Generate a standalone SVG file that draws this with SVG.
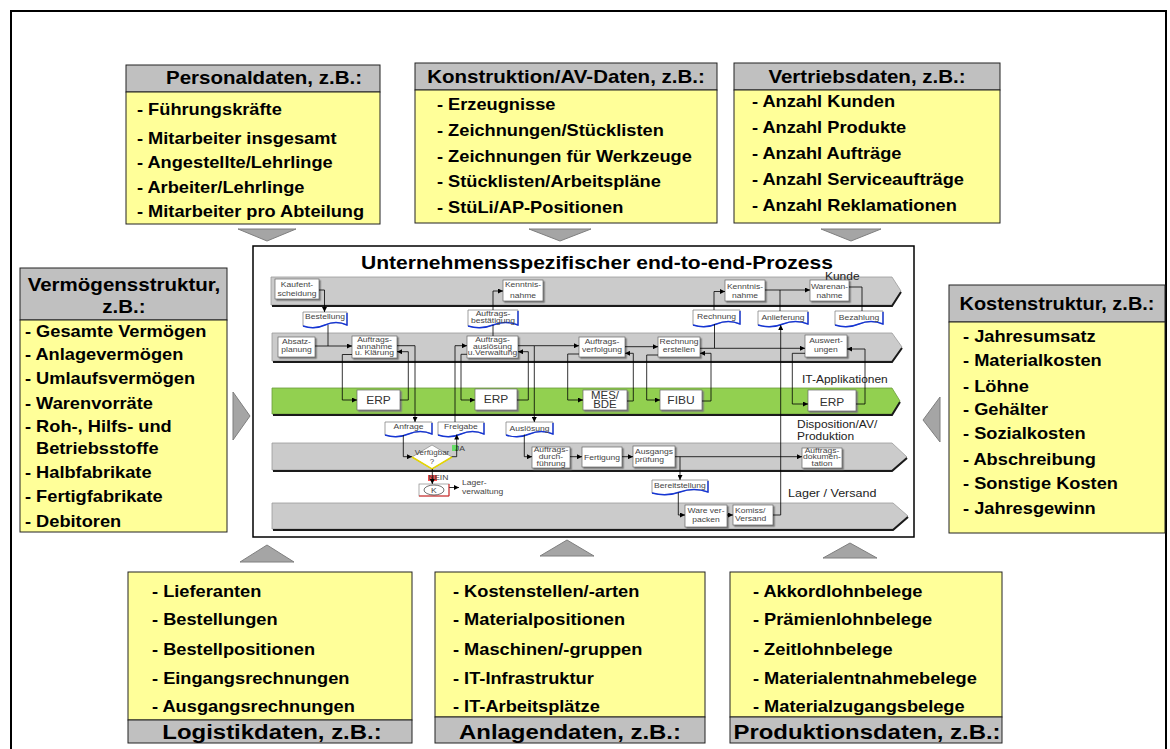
<svg xmlns="http://www.w3.org/2000/svg" width="1170" height="749" viewBox="0 0 1170 749">
<defs>
<marker id="ar" markerWidth="5" markerHeight="5" refX="5" refY="2.5" orient="auto" markerUnits="userSpaceOnUse"><path d="M0,0 L5,2.5 L0,5 Z" fill="#000"/></marker>
<filter id="ds" x="-10%" y="-10%" width="130%" height="140%"><feDropShadow dx="1.5" dy="1.5" stdDeviation="0.3" flood-color="#7a7a7a"/></filter>
<style>
text{font-family:"Liberation Sans",Arial,sans-serif;transform-box:fill-box;transform-origin:50% 50%;transform:scaleX(1.14)}
.l{transform-origin:0% 50%}
.hd{fill:#C0C0C0;stroke:#222;stroke-width:1}
.bd{fill:#FFFF99;stroke:#222;stroke-width:1}
.ht{font-size:18px;font-weight:bold;text-anchor:middle;fill:#000}
.hb{font-size:21px;font-weight:bold;text-anchor:middle;fill:#000}
.it{font-size:16px;font-weight:bold;fill:#000;transform-origin:0% 50%}
.tr{fill:#A5A5A5;stroke:#7f7f7f;stroke-width:1}
.lane{fill:#CBCBCB;stroke:#9a9a9a;stroke-width:0.8}
.gl{fill:#92D050;stroke:#6a9a3a;stroke-width:0.8}
.sh{fill:none;stroke:#1a1a1a;stroke-width:2}
.bx{fill:#fff;stroke:#666;stroke-width:0.7;filter:url(#ds)}
.s{font-size:7.5px;fill:#444;text-anchor:middle}
.e{font-size:10.5px;fill:#333;text-anchor:middle}
.lb{font-size:10.5px;fill:#222;transform-origin:0% 50%}
.c{fill:none;stroke:#000;stroke-width:0.8}
.ca{marker-end:url(#ar)}
.doc{fill:#fff;stroke:#777;stroke-width:0.7}
.blu{fill:none;stroke:#1535d5;stroke-width:1.4}
</style>
</defs>
<rect x="11" y="11" width="1155" height="760" fill="#fff" stroke="#000" stroke-width="2"/>

<!-- top boxes -->
<g id="personaldaten">
<rect class="hd" x="126" y="65" width="254" height="27"/>
<rect class="bd" x="126" y="92" width="254" height="132"/>
<text class="ht" x="264" y="84.5">Personaldaten, z.B.:</text>
<text class="it" x="137" y="115.5">- Führungskräfte</text>
<text class="it" x="137" y="144">- Mitarbeiter insgesamt</text>
<text class="it" x="137" y="168">- Angestellte/Lehrlinge</text>
<text class="it" x="137" y="193">- Arbeiter/Lehrlinge</text>
<text class="it" x="137" y="217">- Mitarbeiter pro Abteilung</text>
<polygon class="tr" points="238,229 296,229 267,241"/>
</g>
<g id="konstruktion">
<rect class="hd" x="415" y="63" width="302" height="27"/>
<rect class="bd" x="415" y="90" width="302" height="133"/>
<text class="ht" x="566" y="83">Konstruktion/AV-Daten, z.B.:</text>
<text class="it" x="437" y="110">- Erzeugnisse</text>
<text class="it" x="437" y="136">- Zeichnungen/Stücklisten</text>
<text class="it" x="437" y="162">- Zeichnungen für Werkzeuge</text>
<text class="it" x="437" y="187">- Stücklisten/Arbeitspläne</text>
<text class="it" x="437" y="213">- StüLi/AP-Positionen</text>
<polygon class="tr" points="529,229 591,229 560,241"/>
</g>
<g id="vertrieb">
<rect class="hd" x="734" y="63" width="266" height="27"/>
<rect class="bd" x="734" y="90" width="266" height="133"/>
<text class="ht" x="867" y="83">Vertriebsdaten, z.B.:</text>
<text class="it" x="752" y="107">- Anzahl Kunden</text>
<text class="it" x="752" y="133">- Anzahl Produkte</text>
<text class="it" x="752" y="159">- Anzahl Aufträge</text>
<text class="it" x="752" y="185">- Anzahl Serviceaufträge</text>
<text class="it" x="752" y="211">- Anzahl Reklamationen</text>
<polygon class="tr" points="821,229 881,229 851,241"/>
</g>

<!-- side boxes -->
<g id="vermoegen">
<rect class="hd" x="20" y="268" width="207" height="52"/>
<rect class="bd" x="20" y="320" width="207" height="212"/>
<text class="ht" x="124" y="291.5">Vermögensstruktur,</text>
<text class="ht" x="124" y="313">z.B.:</text>
<text class="it" x="25" y="337">- Gesamte Vermögen</text>
<text class="it" x="25" y="360.5">- Anlagevermögen</text>
<text class="it" x="25" y="384">- Umlaufsvermögen</text>
<text class="it" x="25" y="409">- Warenvorräte</text>
<text class="it" x="25" y="432">- Roh-, Hilfs- und</text>
<text class="it" x="36" y="454.5">Betriebsstoffe</text>
<text class="it" x="25" y="478">- Halbfabrikate</text>
<text class="it" x="25" y="502">- Fertigfabrikate</text>
<text class="it" x="25" y="527">- Debitoren</text>
<polygon class="tr" points="233,392 250,416 233,440"/>
</g>
<g id="kosten">
<rect class="hd" x="949" y="285" width="216" height="37"/>
<rect class="bd" x="949" y="322" width="216" height="211"/>
<text class="ht" x="1057" y="310" style="font-size:17.5px">Kostenstruktur, z.B.:</text>
<text class="it" x="963" y="342">- Jahresumsatz</text>
<text class="it" x="963" y="366">- Materialkosten</text>
<text class="it" x="963" y="392">- Löhne</text>
<text class="it" x="963" y="415.5">- Gehälter</text>
<text class="it" x="963" y="439.5">- Sozialkosten</text>
<text class="it" x="963" y="465">- Abschreibung</text>
<text class="it" x="963" y="489">- Sonstige Kosten</text>
<text class="it" x="963" y="514">- Jahresgewinn</text>
<polygon class="tr" points="940,397 923,420 940,442"/>
</g>

<!-- bottom boxes -->
<g id="logistik">
<rect class="bd" x="128" y="572" width="284" height="148"/>
<rect class="hd" x="128" y="720" width="284" height="23"/>
<text class="hb" x="272" y="739">Logistikdaten, z.B.:</text>
<text class="it" x="152" y="597">- Lieferanten</text>
<text class="it" x="152" y="625.5">- Bestellungen</text>
<text class="it" x="152" y="655">- Bestellpositionen</text>
<text class="it" x="152" y="684">- Eingangsrechnungen</text>
<text class="it" x="152" y="712">- Ausgangsrechnungen</text>
<polygon class="tr" points="240,562 267,545 294,562"/>
</g>
<g id="anlagen">
<rect class="bd" x="435" y="572" width="270" height="145"/>
<rect class="hd" x="435" y="717" width="270" height="26"/>
<text class="hb" x="570" y="739">Anlagendaten, z.B.:</text>
<text class="it" x="453" y="597">- Kostenstellen/-arten</text>
<text class="it" x="453" y="625.5">- Materialpositionen</text>
<text class="it" x="453" y="655">- Maschinen/-gruppen</text>
<text class="it" x="453" y="684">- IT-Infrastruktur</text>
<text class="it" x="453" y="712">- IT-Arbeitsplätze</text>
<polygon class="tr" points="540,556 567,540 594,556"/>
</g>
<g id="produktion">
<rect class="bd" x="730" y="572" width="272" height="145"/>
<rect class="hd" x="730" y="717" width="272" height="26"/>
<text class="hb" x="867" y="739">Produktionsdaten, z.B.:</text>
<text class="it" x="753" y="597">- Akkordlohnbelege</text>
<text class="it" x="753" y="625.5">- Prämienlohnbelege</text>
<text class="it" x="753" y="655">- Zeitlohnbelege</text>
<text class="it" x="753" y="684">- Materialentnahmebelege</text>
<text class="it" x="753" y="712">- Materialzugangsbelege</text>
<polygon class="tr" points="823,558 850,543 877,558"/>
</g>

<!-- central process -->
<g id="prozess">
<rect x="253" y="246" width="661" height="291" fill="#fff" stroke="#000" stroke-width="1.5"/>
<text x="597" y="269" style="font-size:18.5px;font-weight:bold;text-anchor:middle;fill:#000">Unternehmensspezifischer end-to-end-Prozess</text>
<polygon class="lane" points="271,277 892,277 901,291 892,305 271,305"/>
<polyline class="sh" points="272,306 892,306 901,292"/>
<polygon class="lane" points="272,333 892,333 902,347 892,361 272,361"/>
<polyline class="sh" points="273,362 892,362 902,348"/>
<polygon class="gl" points="272,388 892,388 900,401 892,414 272,414"/>
<polyline class="sh" points="273,415 892,415 900,402"/>
<polygon class="lane" points="272,443 892,443 907,457 892,470 272,470"/>
<polyline class="sh" points="273,471 892,471 907,458"/>
<polygon class="lane" points="272,503 893,503 908,516 893,529 272,529"/>
<polyline class="sh" points="273,530 893,530 908,517"/>
<text class="lb l" x="825" y="280">Kunde</text>
<text class="lb l" x="802" y="383.5">IT-Applikationen</text>
<text class="lb l" x="797" y="428.5">Disposition/AV/</text>
<text class="lb l" x="797" y="440.5">Produktion</text>
<text class="lb l" x="788" y="497" style="font-size:11px">Lager / Versand</text>
</g>

<g id="kaufentscheidung"><rect class="bx" x="275" y="279" width="44" height="20"/><text class="s" x="297" y="287">Kaufent-</text><text class="s" x="297" y="296.5">scheidung</text></g>
<g id="kenntnisnahme1"><rect class="bx" x="503" y="280" width="40" height="21"/><text class="s" x="523" y="287">Kenntnis-</text><text class="s" x="523" y="298">nahme</text></g>
<g id="kenntnisnahme2"><rect class="bx" x="725" y="280" width="40" height="21"/><text class="s" x="745" y="289">Kenntnis-</text><text class="s" x="745" y="298">nahme</text></g>
<g id="warenannahme"><rect class="bx" x="810" y="280" width="39" height="21"/><text class="s" x="829.5" y="289">Warenan-</text><text class="s" x="829.5" y="298">nahme</text></g>

<g id="bestellung"><path class="doc" d="M303,312 H347 V325 Q336,320 325,325 T303,326 Z"/><path class="blu" d="M347,313 V325 Q336,320 325,325 T303,326"/><text class="s" x="325" y="319.5">Bestellung</text></g>
<g id="auftragsbestaetigung"><path class="doc" d="M468,310 H518 V325 Q505.5,320 493,325 T468,326 Z"/><path class="blu" d="M518,311 V325 Q505.5,320 493,325 T468,326"/><text class="s" x="493" y="316">Auftrags-</text><text class="s" x="493" y="323">bestätigung</text></g>
<g id="rechnung"><path class="doc" d="M693,310 H740 V324 Q728.25,319 716.5,324 T693,325 Z"/><path class="blu" d="M740,311 V324 Q728.25,319 716.5,324 T693,325"/><text class="s" x="716.5" y="319.5">Rechnung</text></g>
<g id="anlieferung"><path class="doc" d="M758,311 H808 V324 Q795.5,319 783,324 T758,325 Z"/><path class="blu" d="M808,312 V324 Q795.5,319 783,324 T758,325"/><text class="s" x="783" y="320">Anlieferung</text></g>
<g id="bezahlung"><path class="doc" d="M835,311 H883 V324 Q871,319 859,324 T835,325 Z"/><path class="blu" d="M883,312 V324 Q871,319 859,324 T835,325"/><text class="s" x="859" y="320">Bezahlung</text></g>

<g id="absatzplanung"><rect class="bx" x="278" y="337" width="37" height="20"/><text class="s" x="296.5" y="344.5">Absatz-</text><text class="s" x="296.5" y="352.5">planung</text></g>
<g id="auftragsannahme"><rect class="bx" x="352" y="336" width="45" height="22"/><text class="s" x="374.5" y="342.5">Auftrags-</text><text class="s" x="374.5" y="349">annahme</text><text class="s" x="374.5" y="355.5">u. Klärung</text></g>
<g id="auftragsausloesung"><rect class="bx" x="467" y="336" width="51" height="22"/><text class="s" x="492.5" y="342.5">Auftrags-</text><text class="s" x="492.5" y="349">auslösung</text><text class="s" x="492.5" y="355.5">u.Verwaltung</text></g>
<g id="auftragsverfolgung"><rect class="bx" x="579" y="337" width="46" height="20"/><text class="s" x="602" y="344.5">Auftrags-</text><text class="s" x="602" y="352.5">verfolgung</text></g>
<g id="rechnungerstellen"><rect class="bx" x="658" y="337" width="42" height="20"/><text class="s" x="679" y="344.5">Rechnung</text><text class="s" x="679" y="352.5">erstellen</text></g>
<g id="auswertungen"><rect class="bx" x="805" y="335" width="42" height="22"/><text class="s" x="826" y="343">Auswert-</text><text class="s" x="826" y="352">ungen</text></g>

<g id="erp1"><rect class="bx" x="357" y="390" width="43" height="20"/><text class="e" x="378.5" y="404">ERP</text></g>
<g id="erp2"><rect class="bx" x="475" y="389" width="42" height="21"/><text class="e" x="496" y="403.5">ERP</text></g>
<g id="mesbde"><rect class="bx" x="583" y="390" width="44" height="20"/><text class="e" x="605" y="399.5" style="font-size:10px">MES/</text><text class="e" x="605" y="408.5" style="font-size:10px">BDE</text></g>
<g id="fibu"><rect class="bx" x="660" y="390" width="42" height="20"/><text class="e" x="681" y="404">FIBU</text></g>
<g id="erp3"><rect class="bx" x="808" y="390" width="48" height="21"/><text class="e" x="832" y="405.5">ERP</text></g>

<g id="anfrage"><path class="doc" d="M385,422 H432 V434 Q420.25,429 408.5,434 T385,435 Z"/><path class="blu" d="M432,423 V434 Q420.25,429 408.5,434 T385,435"/><text class="s" x="408.5" y="429.5">Anfrage</text></g>
<g id="freigabe"><path class="doc" d="M438,422 H484 V434 Q472.5,429 461,434 T438,435 Z"/><path class="blu" d="M484,423 V434 Q472.5,429 461,434 T438,435"/><text class="s" x="461" y="429.5">Freigabe</text></g>
<g id="ausloesung"><path class="doc" d="M506,422 H553 V434 Q541.25,429 529.5,434 T506,435 Z"/><path class="blu" d="M553,423 V434 Q541.25,429 529.5,434 T506,435"/><text class="s" x="529.5" y="431">Auslösung</text></g>

<g id="verfuegbar"><polygon points="432,445 452,457 432,469 412,457" fill="#fff" stroke="#888" stroke-width="0.7"/><polyline points="412,457 432,469 452,457" fill="none" stroke="#E6D600" stroke-width="1.5"/><text class="s" x="432" y="455.5" style="font-size:7px">Verfügbar</text><text class="s" x="432" y="464.5" style="font-size:7px">?</text></g>
<g id="ja"><rect x="452" y="445" width="6" height="6" fill="#66DD66"/><text class="s l" x="455" y="451.5" style="text-anchor:start">JA</text></g>
<g id="nein"><rect x="428" y="475" width="9" height="6" fill="#FF4D4D"/><text class="s l" x="428" y="480.5" style="text-anchor:start">NEIN</text></g>
<g id="k"><rect x="419" y="484" width="30" height="12" fill="#fff" stroke="#888" stroke-width="0.7"/><polyline points="419,496 449,496 449,484" fill="none" stroke="#E02020" stroke-width="1"/><ellipse cx="434" cy="490" rx="10" ry="5" fill="#fff" stroke="#333" stroke-width="0.7"/><text class="s" x="434" y="492.7">K</text></g>
<g id="lagerverwaltung"><text class="s l" x="462" y="485.5" style="text-anchor:start">Lager-</text><text class="s l" x="462" y="493.7" style="text-anchor:start">verwaltung</text></g>
<g id="auftragsdurchfuehrung"><rect class="bx" x="532" y="447" width="38" height="21"/><text class="s" x="551" y="452.5">Auftrags-</text><text class="s" x="551" y="459">durch-</text><text class="s" x="551" y="466">führung</text></g>
<g id="fertigung"><rect class="bx" x="582" y="447" width="40" height="20"/><text class="s" x="602" y="459.7">Fertigung</text></g>
<g id="ausgangspruefung"><rect class="bx" x="633" y="446" width="42" height="21"/><text class="s l" x="635" y="454.5" style="text-anchor:start">Ausgangs</text><text class="s l" x="635" y="462.5" style="text-anchor:start">prüfung</text></g>
<g id="auftragsdokumentation"><rect class="bx" x="802" y="448" width="40" height="20"/><text class="s" x="822" y="453">Auftrags-</text><text class="s" x="822" y="459.5">dokumen-</text><text class="s" x="822" y="466">tation</text></g>
<g id="bereitstellung"><path class="doc" d="M652,480 H708 V492 Q694,487 680,492 T652,493 Z"/><path class="blu" d="M708,481 V492 Q694,487 680,492 T652,493"/><text class="s" x="680" y="488">Bereitstellung</text></g>
<g id="wareverpacken"><rect class="bx" x="685" y="505" width="42" height="22"/><text class="s" x="706" y="513">Ware ver-</text><text class="s" x="706" y="522">packen</text></g>
<g id="komissversand"><rect class="bx" x="733" y="505" width="40" height="20"/><text class="s l" x="735" y="513" style="text-anchor:start">Komiss/</text><text class="s l" x="735" y="521.5" style="text-anchor:start">Versand</text></g>

<g id="connectors">
<path class="c ca" d="M319,290 H324.5 V312"/>
<path class="c" d="M328,325 V346"/>
<path class="c ca" d="M315,346 H352"/>
<path class="c ca" d="M352,354.5 H342.3 V400 H357"/>
<path class="c ca" d="M400,400 H408.3 V351.7 H397"/>
<path class="c ca" d="M397,345.7 H415 V422"/>
<path class="c ca" d="M403.3,435 V456.7 H412"/>
<path class="c ca" d="M451.7,456.7 H456.7 V434.5"/>
<path class="c ca" d="M455,422 V345.7 H467"/>
<path class="c" d="M493,336 V325"/>
<path class="c ca" d="M493,310 V291 H503"/>
<path class="c ca" d="M467,354.3 H461 V400 H475"/>
<path class="c ca" d="M517,400 H528.3 V351.7 H518"/>
<path class="c ca" d="M518,345.7 H534.3 V422"/>
<path class="c ca" d="M534.3,345.7 H579"/>
<path class="c ca" d="M579,354 H567.7 V400 H583"/>
<path class="c ca" d="M627,401 H633.3 V353.3 H625"/>
<path class="c ca" d="M625,346.7 H658"/>
<path class="c ca" d="M658,355 H646.7 V400 H660"/>
<path class="c ca" d="M702,401 H711 V353.3 H700"/>
<path class="c" d="M700,348.3 H714.5 V324"/>
<path class="c ca" d="M714.5,348.3 H805"/>
<path class="c ca" d="M714,310 V291.5 H725"/>
<path class="c ca" d="M805,353.3 H792.3 V404 H808"/>
<path class="c ca" d="M856,404 H865 V349 H847"/>
<path class="c ca" d="M765,290 H810"/>
<path class="c" d="M780,311 V290"/>
<path class="c" d="M849,287 H862 V311"/>
<path class="c ca" d="M773,515 H780.7 V325"/>
<path class="c ca" d="M524.3,434.5 V456.7 H532"/>
<path class="c ca" d="M570,456.7 H582"/>
<path class="c ca" d="M622,456.7 H633"/>
<path class="c ca" d="M675,456.7 H802"/>
<path class="c ca" d="M680,456.7 V480"/>
<path class="c ca" d="M678.3,492.5 V515 H685"/>
<path class="c ca" d="M727,515 H733"/>
<path class="c ca" d="M432.3,469 V484"/>
<path class="c ca" d="M449.3,487.5 H459"/>
</g>
</svg>
